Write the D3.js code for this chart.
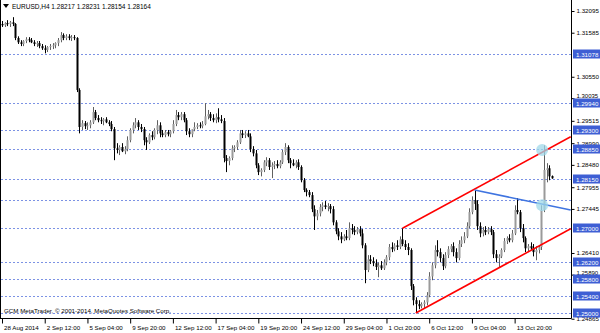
<!DOCTYPE html>
<html><head><meta charset="utf-8">
<script src="https://cdn.jsdelivr.net/npm/d3@7"></script>
<style>
body{margin:0;background:#fff;}
svg{display:block;}
text{font-family:"Liberation Sans",Arial,sans-serif;}
</style>
</head><body>
<svg id="chart" width="600" height="333"></svg>
<script>
// ---- DATA (EURUSD H4, bar 0 = 28 Aug 2014 20:00) ----
const open = [
1.3179,1.3176,1.3181,1.3179,1.3183,1.3179,1.3146,1.3136,1.3132,1.3139,
1.3143,1.3141,1.3136,1.3132,1.3134,1.3127,1.3122,1.3118,1.3125,1.3127,
1.3129,1.3134,1.3141,1.3153,1.3146,1.3150,1.3146,1.3148,1.3146,1.3024,
1.2937,1.2946,1.2939,1.2941,1.2948,1.2972,1.2958,1.2953,1.2951,1.2955,
1.2948,1.2944,1.2932,1.2887,1.2883,1.2890,1.2880,1.2885,1.2906,1.2930,
1.2941,1.2948,1.2937,1.2932,1.2906,1.2901,1.2918,1.2913,1.2930,1.2941,
1.2922,1.2918,1.2925,1.2920,1.2927,1.2944,1.2965,1.2960,1.2967,1.2953,
1.2927,1.2920,1.2932,1.2937,1.2941,1.2939,1.2944,1.2962,1.2967,1.2958,
1.2953,1.2960,1.2955,1.2951,1.2864,1.2857,1.2864,1.2887,1.2890,1.2901,
1.2922,1.2918,1.2922,1.2915,1.2885,1.2875,1.2847,1.2831,1.2836,1.2854,
1.2859,1.2843,1.2847,1.2850,1.2845,1.2854,1.2878,1.2890,1.2859,1.2852,
1.2847,1.2854,1.2843,1.2812,1.2789,1.2784,1.2777,1.2744,1.2727,1.2734,
1.2749,1.2753,1.2749,1.2751,1.2744,1.2713,1.2692,1.2680,1.2673,1.2680,
1.2676,1.2699,1.2695,1.2690,1.2697,1.2687,1.2659,1.2601,1.2626,1.2622,
1.2617,1.2608,1.2612,1.2605,1.2619,1.2631,1.2655,1.2650,1.2659,1.2655,
1.2673,1.2662,1.2655,1.2648,1.2563,1.2530,1.2521,1.2516,1.2521,1.2525,
1.2542,1.2586,1.2612,1.2648,1.2643,1.2629,1.2610,1.2636,1.2650,1.2657,
1.2643,1.2629,1.2662,1.2671,1.2680,1.2704,1.2737,1.2765,1.2756,1.2704,
1.2687,1.2695,1.2690,1.2697,1.2690,1.2638,1.2629,1.2633,1.2648,1.2669,
1.2676,1.2671,1.2687,1.2742,1.2737,1.2699,1.2676,1.2652,1.2657,1.2652,
1.2643,1.2648,1.2655,1.2742,1.2836,1.2840,1.28217];
const high = [
1.3186,1.3183,1.3188,1.3186,1.3195,1.3181,1.3150,1.3141,1.3141,1.3148,
1.3148,1.3146,1.3141,1.3139,1.3139,1.3132,1.3129,1.3127,1.3132,1.3134,
1.3136,1.3146,1.3160,1.3157,1.3155,1.3155,1.3153,1.3153,1.3148,1.3028,
1.2953,1.2951,1.2948,1.2953,1.2984,1.2977,1.2965,1.2960,1.2958,1.2960,
1.2953,1.2951,1.2937,1.2899,1.2894,1.2899,1.2892,1.2915,1.2934,1.2948,
1.2958,1.2953,1.2944,1.2937,1.2913,1.2922,1.2927,1.2934,1.2953,1.2948,
1.2930,1.2930,1.2930,1.2930,1.2953,1.2977,1.2972,1.2972,1.2972,1.2958,
1.2934,1.2930,1.2948,1.2946,1.2948,1.2951,1.2993,1.2977,1.2972,1.2967,
1.2969,1.2981,1.2965,1.2958,1.2871,1.2868,1.2894,1.2894,1.2906,1.2930,
1.2930,1.2927,1.2930,1.2922,1.2892,1.2883,1.2852,1.2840,1.2859,1.2866,
1.2864,1.2854,1.2857,1.2859,1.2859,1.2883,1.2899,1.2894,1.2864,1.2861,
1.2859,1.2861,1.2847,1.2817,1.2793,1.2789,1.2784,1.2753,1.2742,1.2756,
1.2760,1.2763,1.2758,1.2756,1.2751,1.2718,1.2699,1.2690,1.2685,1.2695,
1.2713,1.2709,1.2704,1.2702,1.2704,1.2697,1.2664,1.2636,1.2636,1.2631,
1.2626,1.2619,1.2622,1.2626,1.2636,1.2662,1.2666,1.2664,1.2671,1.2680,
1.2699,1.2671,1.2664,1.2652,1.2568,1.2537,1.2530,1.2525,1.2530,1.2549,
1.2596,1.2619,1.2659,1.2671,1.2652,1.2638,1.2643,1.2657,1.2662,1.2666,
1.2652,1.2671,1.2680,1.2690,1.2713,1.2746,1.2774,1.2789,1.2765,1.2713,
1.2702,1.2704,1.2702,1.2704,1.2695,1.2648,1.2638,1.2652,1.2676,1.2680,
1.2685,1.2695,1.2753,1.2770,1.2742,1.2709,1.2680,1.2662,1.2666,1.2662,
1.2657,1.2659,1.2753,1.2894,1.2852,1.2847,1.28231];
const low = [
1.3172,1.3172,1.3174,1.3172,1.3174,1.3141,1.3132,1.3127,1.3127,1.3134,
1.3136,1.3134,1.3127,1.3125,1.3122,1.3118,1.3110,1.3113,1.3118,1.3120,
1.3122,1.3127,1.3136,1.3141,1.3141,1.3141,1.3139,1.3141,1.3019,1.2922,
1.2930,1.2932,1.2930,1.2934,1.2944,1.2953,1.2948,1.2944,1.2941,1.2946,
1.2939,1.2927,1.2859,1.2875,1.2871,1.2878,1.2873,1.2880,1.2901,1.2922,
1.2934,1.2930,1.2925,1.2894,1.2883,1.2897,1.2906,1.2908,1.2920,1.2913,
1.2913,1.2913,1.2915,1.2913,1.2922,1.2939,1.2953,1.2953,1.2948,1.2918,
1.2913,1.2913,1.2927,1.2932,1.2934,1.2934,1.2941,1.2955,1.2951,1.2948,
1.2946,1.2948,1.2946,1.2854,1.2831,1.2847,1.2859,1.2878,1.2883,1.2897,
1.2911,1.2911,1.2913,1.2878,1.2868,1.2840,1.2824,1.2821,1.2831,1.2845,
1.2836,1.2817,1.2838,1.2840,1.2840,1.2850,1.2871,1.2852,1.2840,1.2845,
1.2840,1.2836,1.2807,1.2784,1.2774,1.2772,1.2737,1.2695,1.2718,1.2727,
1.2739,1.2744,1.2739,1.2734,1.2706,1.2685,1.2671,1.2664,1.2669,1.2671,
1.2671,1.2685,1.2683,1.2685,1.2680,1.2652,1.2570,1.2596,1.2615,1.2610,
1.2601,1.2584,1.2601,1.2601,1.2612,1.2624,1.2643,1.2645,1.2648,1.2650,
1.2657,1.2648,1.2636,1.2554,1.2518,1.2500,1.2509,1.2511,1.2511,1.2518,
1.2537,1.2577,1.2605,1.2633,1.2619,1.2601,1.2605,1.2629,1.2643,1.2633,
1.2619,1.2624,1.2655,1.2664,1.2676,1.2699,1.2732,1.2742,1.2695,1.2678,
1.2680,1.2683,1.2685,1.2683,1.2629,1.2619,1.2608,1.2629,1.2643,1.2662,
1.2666,1.2666,1.2683,1.2732,1.2690,1.2666,1.2643,1.2643,1.2648,1.2633,
1.2624,1.2640,1.2648,1.2737,1.2807,1.2812,1.28154];
const close = [
1.3176,1.3181,1.3179,1.3183,1.3179,1.3146,1.3136,1.3132,1.3139,1.3143,
1.3141,1.3136,1.3132,1.3134,1.3127,1.3122,1.3118,1.3125,1.3127,1.3129,
1.3134,1.3141,1.3153,1.3146,1.3150,1.3146,1.3148,1.3146,1.3024,1.2937,
1.2946,1.2939,1.2941,1.2948,1.2972,1.2958,1.2953,1.2951,1.2955,1.2948,
1.2944,1.2932,1.2887,1.2883,1.2890,1.2880,1.2885,1.2906,1.2930,1.2941,
1.2948,1.2937,1.2932,1.2906,1.2901,1.2918,1.2913,1.2930,1.2941,1.2922,
1.2918,1.2925,1.2920,1.2927,1.2944,1.2965,1.2960,1.2967,1.2953,1.2927,
1.2920,1.2932,1.2937,1.2941,1.2939,1.2944,1.2962,1.2967,1.2958,1.2953,
1.2960,1.2955,1.2951,1.2864,1.2857,1.2864,1.2887,1.2890,1.2901,1.2922,
1.2918,1.2922,1.2915,1.2885,1.2875,1.2847,1.2831,1.2836,1.2854,1.2859,
1.2843,1.2847,1.2850,1.2845,1.2854,1.2878,1.2890,1.2859,1.2852,1.2847,
1.2854,1.2843,1.2812,1.2789,1.2784,1.2777,1.2744,1.2727,1.2734,1.2749,
1.2753,1.2749,1.2751,1.2744,1.2713,1.2692,1.2680,1.2673,1.2680,1.2676,
1.2699,1.2695,1.2690,1.2697,1.2687,1.2659,1.2601,1.2626,1.2622,1.2617,
1.2608,1.2612,1.2605,1.2619,1.2631,1.2655,1.2650,1.2659,1.2655,1.2673,
1.2662,1.2655,1.2648,1.2563,1.2530,1.2521,1.2516,1.2521,1.2525,1.2542,
1.2586,1.2612,1.2648,1.2643,1.2629,1.2610,1.2636,1.2650,1.2657,1.2643,
1.2629,1.2662,1.2671,1.2680,1.2704,1.2737,1.2765,1.2756,1.2704,1.2687,
1.2695,1.2690,1.2697,1.2690,1.2638,1.2629,1.2633,1.2648,1.2669,1.2676,
1.2671,1.2687,1.2742,1.2737,1.2699,1.2676,1.2652,1.2657,1.2652,1.2643,
1.2648,1.2655,1.2742,1.2836,1.2840,1.2821,1.28164];

const timeLabels = ["28 Aug 2014","2 Sep 12:00","5 Sep 04:00","9 Sep 20:00","12 Sep 12:00","17 Sep 04:00","19 Sep 20:00","24 Sep 12:00","29 Sep 04:00","1 Oct 20:00","6 Oct 12:00","9 Oct 04:00","13 Oct 20:00"];
const timeLabelBars = [0,16,32,48,64,80,96,112,128,144,160,176,192];
const priceTicks = [1.32095,1.31585,1.30550,1.29515,1.28990,1.28480,1.27955,1.27445,1.26410,1.24865];
const peekTicks = [1.30035,1.25890];
const levelPrices = [1.31078,1.29940,1.29300,1.28850,1.28150,1.27000,1.26200,1.25800,1.25400,1.25000];
const extraLevels = [1.27650];
const channelUpper = [[150,1.2699],[213,1.2914]];
const channelLower = [[155,1.2500],[213,1.2698]];
const blueLine = [[177,1.2789],[213,1.2742]];
const markers = [[202.3,1.2883],[202.3,1.2753]];
const header = "EURUSD,H4  1.28217 1.28231 1.28154 1.28164";
const copyright = "GCM MetaTrader, \u00A9 2001-2014, MetaQuotes Software Corp.";

// ---- DRAW ----
const svg = d3.select("#chart");
const P = {left:1, right:571, top:0, bottom:318};
const x = d3.scaleLinear().domain([0,213]).range([2,570.7]);
const y = d3.scaleLinear().domain([1.25000,1.32095]).range([313,11]);
const FONT = "'Liberation Sans',Arial,sans-serif";

const defs = svg.append("defs");
defs.append("clipPath").attr("id","clip")
  .append("rect").attr("x",P.left).attr("y",P.top).attr("width",P.right-P.left).attr("height",P.bottom-P.top);

// horizontal level lines
const lv = svg.append("g");
levelPrices.concat(extraLevels).forEach(p=>{
  const yy = Math.round(y(p))+0.5;
  lv.append("line").attr("x1",P.left).attr("x2",P.right).attr("y1",yy).attr("y2",yy)
    .attr("stroke","#7c92e4").attr("stroke-width",1).attr("stroke-dasharray","2,2");
});

// candles
const cg = svg.append("g").attr("clip-path","url(#clip)");
open.forEach((o,i)=>{
  const c = close[i], h = high[i], l = low[i];
  const cx = Math.round(x(i));
  const bull = c >= o;
  cg.append("line").attr("x1",cx+0.5).attr("x2",cx+0.5).attr("y1",y(h)).attr("y2",y(l))
    .attr("stroke", bull ? "#606060" : "#000").attr("stroke-width",1);
  const top = y(Math.max(o,c)), bot = y(Math.min(o,c));
  cg.append("rect").attr("x",cx-0.5).attr("y",top).attr("width",2).attr("height",Math.max(1,bot-top))
    .attr("fill", bull ? "#9a9a9a" : "#000");
});

// trend lines
function ray(pts,color){
  const [a,b]=pts;
  svg.append("line").attr("clip-path","url(#clip)")
    .attr("x1",x(a[0])).attr("y1",y(a[1])).attr("x2",x(b[0])).attr("y2",y(b[1]))
    .attr("stroke",color).attr("stroke-width",1.6);
}
ray(channelUpper,"#ff0000");
ray(channelLower,"#ff0000");
ray(blueLine,"#3f74e0");

// markers
markers.forEach(m=>{
  svg.append("circle").attr("cx",x(m[0])).attr("cy",y(m[1])).attr("r",6)
    .attr("fill","#9fd8ea").attr("fill-opacity",0.75);
});

// frame
svg.append("line").attr("x1",P.right+0.5).attr("x2",P.right+0.5).attr("y1",0).attr("y2",P.bottom+0.5).attr("stroke","#000");
svg.append("line").attr("x1",0).attr("x2",P.right+0.5).attr("y1",P.bottom+0.5).attr("y2",P.bottom+0.5).attr("stroke","#000");
svg.append("line").attr("x1",0.5).attr("x2",0.5).attr("y1",0).attr("y2",P.bottom+0.5).attr("stroke","#000");

// price axis
const ay = svg.append("g").attr("transform",`translate(${P.right+0.5},0)`)
  .call(d3.axisRight(y).tickValues(priceTicks).tickFormat(d=>d.toFixed(5)).tickSize(3).tickPadding(2));
ay.select(".domain").remove();
ay.selectAll("text").attr("font-size",6.2).attr("fill","#000").style("font-family",FONT);
ay.selectAll("line").attr("stroke","#000");

// ticks partly hidden behind the level labels (only their top shows)
peekTicks.forEach(p=>{
  const yy = y(p);
  svg.append("line").attr("x1",P.right+0.5).attr("x2",P.right+3.5).attr("y1",yy).attr("y2",yy).attr("stroke","#000");
  svg.append("text").attr("x",P.right+5.5).attr("y",yy-0.6)
    .attr("font-size",6.0).attr("fill","#000").text(p.toFixed(5));
});

// highlighted level labels
levelPrices.forEach(p=>{
  const yy = Math.round(y(p));
  svg.append("rect").attr("x",P.right+2).attr("y",yy-4.5).attr("width",27).attr("height",9).attr("fill","#3e5fd4");
  svg.append("text").attr("x",P.right+5).attr("y",yy+2.5).attr("font-size",6.2).attr("fill","#fff").text(p.toFixed(5));
});

// time axis
const ax = svg.append("g").attr("transform",`translate(0,${P.bottom+0.5})`)
  .call(d3.axisBottom(x).tickValues(timeLabelBars).tickFormat((d,i)=>timeLabels[i]).tickSize(5).tickPadding(2));
ax.select(".domain").remove();
ax.selectAll("line").attr("stroke","#000");
ax.selectAll("text").attr("text-anchor","start").attr("dx",1.5).attr("font-size",6.2).attr("fill","#000")
  .style("font-family",FONT);

// header & copyright
svg.append("path").attr("d","M3,4 L9,4 L6,8 Z").attr("fill","#000");
svg.append("text").attr("x",12).attr("y",9).attr("font-size",6.5).attr("fill","#000").text(header);
svg.append("text").attr("x",4).attr("y",313).attr("font-size",6.2).attr("fill","#000").text(copyright);
</script>
</body></html>
